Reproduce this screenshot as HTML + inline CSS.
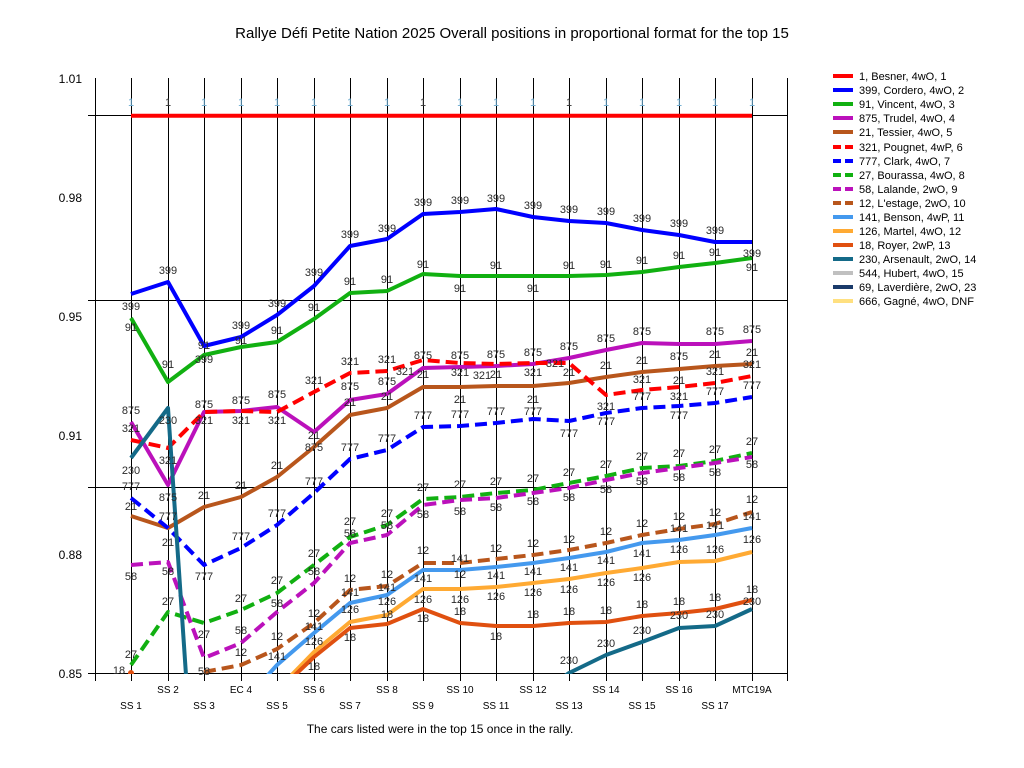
<!DOCTYPE html>
<html><head><meta charset="utf-8"><style>
html,body{margin:0;padding:0;background:#fff;width:1024px;height:768px;overflow:hidden}
svg{display:block;font-family:"Liberation Sans",sans-serif}
.pl{font-size:11px;fill:#2a2a2a;text-anchor:middle}
.ax{font-size:12px;fill:#000}
.lg{font-size:11px;fill:#000}
</style></head><body>
<svg width="1024" height="768" viewBox="0 0 1024 768">
<defs><clipPath id="c"><rect x="95" y="70" width="693" height="604"/></clipPath></defs>
<text x="512" y="38" font-size="15" text-anchor="middle">Rallye Défi Petite Nation 2025  Overall positions in proportional format for the top 15</text>
<g stroke="#000" stroke-width="1" shape-rendering="crispEdges">
<line x1="95.5" y1="78" x2="95.5" y2="681"/>
<line x1="787.5" y1="78" x2="787.5" y2="681"/>
<line x1="131.5" y1="78" x2="131.5" y2="681"/><line x1="168.5" y1="78" x2="168.5" y2="681"/><line x1="204.5" y1="78" x2="204.5" y2="681"/><line x1="241.5" y1="78" x2="241.5" y2="681"/><line x1="277.5" y1="78" x2="277.5" y2="681"/><line x1="314.5" y1="78" x2="314.5" y2="681"/><line x1="350.5" y1="78" x2="350.5" y2="681"/><line x1="387.5" y1="78" x2="387.5" y2="681"/><line x1="423.5" y1="78" x2="423.5" y2="681"/><line x1="460.5" y1="78" x2="460.5" y2="681"/><line x1="496.5" y1="78" x2="496.5" y2="681"/><line x1="533.5" y1="78" x2="533.5" y2="681"/><line x1="569.5" y1="78" x2="569.5" y2="681"/><line x1="606.5" y1="78" x2="606.5" y2="681"/><line x1="642.5" y1="78" x2="642.5" y2="681"/><line x1="679.5" y1="78" x2="679.5" y2="681"/><line x1="715.5" y1="78" x2="715.5" y2="681"/><line x1="752.5" y1="78" x2="752.5" y2="681"/>
<line x1="88" y1="115.5" x2="788" y2="115.5"/>
<line x1="88" y1="300.5" x2="788" y2="300.5"/>
<line x1="88" y1="487.5" x2="788" y2="487.5"/>
<line x1="88" y1="673.5" x2="788" y2="673.5"/>
</g>
<g class="ax" text-anchor="end">
<text x="82" y="83">1.01</text><text x="82" y="202">0.98</text><text x="82" y="321">0.95</text><text x="82" y="440">0.91</text><text x="82" y="559">0.88</text><text x="82" y="678">0.85</text>
</g>
<g class="ax" text-anchor="middle">
<text x="168" y="693" font-size="10">SS 2</text><text x="241" y="693" font-size="10">EC 4</text><text x="314" y="693" font-size="10">SS 6</text><text x="387" y="693" font-size="10">SS 8</text><text x="460" y="693" font-size="10">SS 10</text><text x="533" y="693" font-size="10">SS 12</text><text x="606" y="693" font-size="10">SS 14</text><text x="679" y="693" font-size="10">SS 16</text><text x="752" y="693" font-size="10">MTC19A</text>
<text x="131" y="709" font-size="10">SS 1</text><text x="204" y="709" font-size="10">SS 3</text><text x="277" y="709" font-size="10">SS 5</text><text x="350" y="709" font-size="10">SS 7</text><text x="423" y="709" font-size="10">SS 9</text><text x="496" y="709" font-size="10">SS 11</text><text x="569" y="709" font-size="10">SS 13</text><text x="642" y="709" font-size="10">SS 15</text><text x="715" y="709" font-size="10">SS 17</text>
</g>
<text x="440" y="733" font-size="12" text-anchor="middle">The cars listed were in the top 15 once in the rally.</text>
<g clip-path="url(#c)" fill="none" stroke-width="4" stroke-linejoin="round">
<polyline stroke="#ff0000" points="131,115.7 752,115.7"/>
<polyline stroke="#0000ff" points="131,294 168,282 204,346 241,337 277,315 314,286 350,246 387,239 423,214 460,212 496,209 533,217 569,221 606,223 642,230 679,235 715,242 752,242"/>
<polyline stroke="#11b011" points="131,318 168,382 204,355 241,347 277,342 314,319 350,293 387,291 423,274 460,276 496,276 533,276 569,276 606,275 642,272 679,267 715,263 752,258"/>
<polyline stroke="#bb11bb" points="131,422 168,485 204,412 241,411 277,407 314,432 350,400 387,394 423,368 460,367 496,366 533,364 569,358 606,350 642,343 679,344 715,344 752,341"/>
<polyline stroke="#b8561c" points="131,516 168,528 204,507 241,497 277,477 314,447 350,415 387,408 423,387 460,387 496,386 533,386 569,383 606,377 642,372 679,369 715,366 752,364"/>
<polyline stroke="#ff0000" stroke-dasharray="12 6" points="131,440 168,448 204,412 241,411 277,412 314,392 350,373 387,371 423,360 460,363 496,364 533,363 569,363 606,395 642,390 679,387 715,383 752,376"/>
<polyline stroke="#0000ff" stroke-dasharray="12 6" points="131,498 168,528 204,565 241,548 277,525 314,493 350,459 387,450 423,427 460,426 496,423 533,419 569,421 606,413 642,408 679,406 715,403 752,397"/>
<polyline stroke="#11b011" stroke-dasharray="12 6" points="131,665 168,612 204,623 241,610 277,593 314,565 350,537 387,525 423,499 460,497 496,493 533,490 569,483 606,476 642,468 679,466 715,461 752,453"/>
<polyline stroke="#bb11bb" stroke-dasharray="12 6" points="131,565 168,562 204,658 241,643 277,612 314,583 350,543 387,535 423,505 460,500 496,498 533,493 569,488 606,480 642,473 679,468 715,463 752,457"/>
<polyline stroke="#b8561c" stroke-dasharray="12 6" points="204,672 241,665 277,649 314,623 350,590 387,586 423,563 460,563 496,559 533,555 569,550 606,543 642,535 679,529 715,524 752,512"/>
<polyline stroke="#4499ee" points="259,685 277,665 314,633 350,603 387,595 423,570 460,570 496,567 533,563 569,558 606,552 642,543 679,540 715,535 752,528"/>
<polyline stroke="#ffaa33" points="277,690 314,652 350,622 387,615 423,589 460,589 496,587 533,583 569,579 606,573 642,568 679,562 715,561 752,552"/>
<polyline stroke="#e05010" points="277,692 314,657 350,628 387,624 423,609 460,623 496,626 533,626 569,623 606,622 642,616 679,613 715,609 752,600"/>
<polyline stroke="#146a88" points="131,458 168,408 187,690"/>
<polyline stroke="#146a88" points="552,685 569,673 606,655 642,642 679,628 715,626 752,609"/>
<circle cx="131" cy="673" r="3" fill="#e05010" stroke="none"/>
</g>
<g class="pl">
<text x="131" y="106" style="fill:#6aaad0">1</text><text x="168" y="106" style="fill:#333">1</text><text x="204" y="106" style="fill:#6aaad0">1</text><text x="241" y="106" style="fill:#6aaad0">1</text><text x="277" y="106" style="fill:#6aaad0">1</text><text x="314" y="106" style="fill:#6aaad0">1</text><text x="350" y="106" style="fill:#6aaad0">1</text><text x="387" y="106" style="fill:#6aaad0">1</text><text x="423" y="106" style="fill:#333">1</text><text x="460" y="106" style="fill:#6aaad0">1</text><text x="496" y="106" style="fill:#6aaad0">1</text><text x="533" y="106" style="fill:#6aaad0">1</text><text x="569" y="106" style="fill:#333">1</text><text x="606" y="106" style="fill:#6aaad0">1</text><text x="642" y="106" style="fill:#6aaad0">1</text><text x="679" y="106" style="fill:#6aaad0">1</text><text x="715" y="106" style="fill:#6aaad0">1</text><text x="752" y="106" style="fill:#6aaad0">1</text>
</g>
<g class="pl">
<text x="131" y="310">399</text><text x="168" y="274">399</text><text x="204" y="349">91</text><text x="241" y="329">399</text><text x="277" y="307">399</text><text x="314" y="276">399</text><text x="350" y="238">399</text><text x="387" y="232">399</text><text x="423" y="206">399</text><text x="460" y="204">399</text><text x="496" y="202">399</text><text x="533" y="209">399</text><text x="569" y="213">399</text><text x="606" y="215">399</text><text x="642" y="222">399</text><text x="679" y="227">399</text><text x="715" y="234">399</text><text x="752" y="257">399</text>
<text x="131" y="331">91</text><text x="168" y="368">91</text><text x="204" y="363">399</text><text x="241" y="344">91</text><text x="277" y="334">91</text><text x="314" y="311">91</text><text x="350" y="285">91</text><text x="387" y="283">91</text><text x="423" y="268">91</text><text x="460" y="292">91</text><text x="496" y="269">91</text><text x="533" y="292">91</text><text x="569" y="269">91</text><text x="606" y="268">91</text><text x="642" y="264">91</text><text x="679" y="259">91</text><text x="715" y="256">91</text><text x="752" y="271">91</text>
<text x="131" y="414">875</text><text x="168" y="501">875</text><text x="204" y="408">875</text><text x="241" y="404">875</text><text x="277" y="398">875</text><text x="314" y="451">875</text><text x="350" y="390">875</text><text x="387" y="385">875</text><text x="423" y="359">875</text><text x="460" y="359">875</text><text x="496" y="358">875</text><text x="533" y="356">875</text><text x="569" y="350">875</text><text x="606" y="342">875</text><text x="642" y="335">875</text><text x="679" y="360">875</text><text x="715" y="335">875</text><text x="752" y="333">875</text>
<text x="131" y="510">21</text><text x="168" y="546">21</text><text x="204" y="499">21</text><text x="241" y="489">21</text><text x="277" y="469">21</text><text x="314" y="439">21</text><text x="350" y="406">21</text><text x="387" y="400">21</text><text x="423" y="378">21</text><text x="460" y="403">21</text><text x="496" y="378">21</text><text x="533" y="403">21</text><text x="569" y="376">21</text><text x="606" y="369">21</text><text x="642" y="364">21</text><text x="679" y="384">21</text><text x="715" y="358">21</text><text x="752" y="356">21</text>
<text x="131" y="432">321</text><text x="168" y="464">321</text><text x="204" y="424">321</text><text x="241" y="424">321</text><text x="277" y="424">321</text><text x="314" y="384">321</text><text x="350" y="365">321</text><text x="387" y="363">321</text><text x="405" y="375">321</text><text x="460" y="376">321</text><text x="482" y="379">321</text><text x="533" y="376">321</text><text x="555" y="367">321</text><text x="606" y="410">321</text><text x="642" y="383">321</text><text x="679" y="400">321</text><text x="715" y="375">321</text><text x="752" y="368">321</text>
<text x="131" y="490">777</text><text x="168" y="520">777</text><text x="204" y="580">777</text><text x="241" y="540">777</text><text x="277" y="517">777</text><text x="314" y="485">777</text><text x="350" y="451">777</text><text x="387" y="442">777</text><text x="423" y="419">777</text><text x="460" y="418">777</text><text x="496" y="415">777</text><text x="533" y="415">777</text><text x="569" y="437">777</text><text x="606" y="425">777</text><text x="642" y="400">777</text><text x="679" y="419">777</text><text x="715" y="395">777</text><text x="752" y="389">777</text>
<text x="131" y="658">27</text><text x="168" y="605">27</text><text x="204" y="638">27</text><text x="241" y="602">27</text><text x="277" y="584">27</text><text x="314" y="557">27</text><text x="350" y="525">27</text><text x="387" y="517">27</text><text x="423" y="491">27</text><text x="460" y="488">27</text><text x="496" y="485">27</text><text x="533" y="482">27</text><text x="569" y="476">27</text><text x="606" y="468">27</text><text x="642" y="460">27</text><text x="679" y="457">27</text><text x="715" y="453">27</text><text x="752" y="445">27</text>
<text x="131" y="580">58</text><text x="168" y="575">58</text><text x="204" y="675">58</text><text x="241" y="634">58</text><text x="277" y="607">58</text><text x="314" y="575">58</text><text x="350" y="537">58</text><text x="387" y="529">58</text><text x="423" y="518">58</text><text x="460" y="515">58</text><text x="496" y="511">58</text><text x="533" y="505">58</text><text x="569" y="501">58</text><text x="606" y="493">58</text><text x="642" y="485">58</text><text x="679" y="481">58</text><text x="715" y="476">58</text><text x="752" y="468">58</text>
<text x="241" y="656">12</text><text x="277" y="640">12</text><text x="314" y="617">12</text><text x="350" y="582">12</text><text x="387" y="578">12</text><text x="423" y="554">12</text><text x="460" y="578">12</text><text x="496" y="552">12</text><text x="533" y="547">12</text><text x="569" y="543">12</text><text x="606" y="535">12</text><text x="642" y="527">12</text><text x="679" y="520">12</text><text x="715" y="516">12</text><text x="752" y="503">12</text>
<text x="277" y="660">141</text><text x="314" y="630">141</text><text x="350" y="596">141</text><text x="387" y="591">141</text><text x="423" y="582">141</text><text x="460" y="562">141</text><text x="496" y="579">141</text><text x="533" y="575">141</text><text x="569" y="571">141</text><text x="606" y="564">141</text><text x="642" y="557">141</text><text x="679" y="532">141</text><text x="715" y="529">141</text><text x="752" y="520">141</text>
<text x="314" y="645">126</text><text x="350" y="613">126</text><text x="387" y="605">126</text><text x="423" y="603">126</text><text x="460" y="603">126</text><text x="496" y="600">126</text><text x="533" y="596">126</text><text x="569" y="593">126</text><text x="606" y="586">126</text><text x="642" y="581">126</text><text x="679" y="553">126</text><text x="715" y="553">126</text><text x="752" y="543">126</text>
<text x="119" y="674">18</text><text x="314" y="670">18</text><text x="350" y="641">18</text><text x="387" y="618">18</text><text x="423" y="622">18</text><text x="460" y="615">18</text><text x="496" y="640">18</text><text x="533" y="618">18</text><text x="569" y="615">18</text><text x="606" y="614">18</text><text x="642" y="608">18</text><text x="679" y="605">18</text><text x="715" y="601">18</text><text x="752" y="593">18</text>
<text x="131" y="474">230</text><text x="168" y="424">230</text><text x="569" y="664">230</text><text x="606" y="647">230</text><text x="642" y="634">230</text><text x="679" y="619">230</text><text x="715" y="618">230</text><text x="752" y="605">230</text>
</g>
<g stroke-width="4">
<line x1="833" y1="76" x2="853" y2="76" stroke="#ff0000"/>
<line x1="833" y1="90" x2="853" y2="90" stroke="#0000ff"/>
<line x1="833" y1="104" x2="853" y2="104" stroke="#11b011"/>
<line x1="833" y1="118" x2="853" y2="118" stroke="#bb11bb"/>
<line x1="833" y1="132" x2="853" y2="132" stroke="#b8561c"/>
<line x1="833" y1="147" x2="853" y2="147" stroke="#ff0000" stroke-dasharray="8 4"/>
<line x1="833" y1="161" x2="853" y2="161" stroke="#0000ff" stroke-dasharray="8 4"/>
<line x1="833" y1="175" x2="853" y2="175" stroke="#11b011" stroke-dasharray="8 4"/>
<line x1="833" y1="189" x2="853" y2="189" stroke="#bb11bb" stroke-dasharray="8 4"/>
<line x1="833" y1="203" x2="853" y2="203" stroke="#b8561c" stroke-dasharray="8 4"/>
<line x1="833" y1="217" x2="853" y2="217" stroke="#4499ee"/>
<line x1="833" y1="231" x2="853" y2="231" stroke="#ffaa33"/>
<line x1="833" y1="245" x2="853" y2="245" stroke="#e05010"/>
<line x1="833" y1="259" x2="853" y2="259" stroke="#146a88"/>
<line x1="833" y1="273" x2="853" y2="273" stroke="#c0c0c0"/>
<line x1="833" y1="287" x2="853" y2="287" stroke="#1a3a6a"/>
<line x1="833" y1="301" x2="853" y2="301" stroke="#ffe080"/>
</g>
<g class="lg">
<text x="859" y="80">1, Besner, 4wO, 1</text>
<text x="859" y="94">399, Cordero, 4wO, 2</text>
<text x="859" y="108">91, Vincent, 4wO, 3</text>
<text x="859" y="122">875, Trudel, 4wO, 4</text>
<text x="859" y="136">21, Tessier, 4wO, 5</text>
<text x="859" y="151">321, Pougnet, 4wP, 6</text>
<text x="859" y="165">777, Clark, 4wO, 7</text>
<text x="859" y="179">27, Bourassa, 4wO, 8</text>
<text x="859" y="193">58, Lalande, 2wO, 9</text>
<text x="859" y="207">12, L'estage, 2wO, 10</text>
<text x="859" y="221">141, Benson, 4wP, 11</text>
<text x="859" y="235">126, Martel, 4wO, 12</text>
<text x="859" y="249">18, Royer, 2wP, 13</text>
<text x="859" y="263">230, Arsenault, 2wO, 14</text>
<text x="859" y="277">544, Hubert, 4wO, 15</text>
<text x="859" y="291">69, Laverdière, 2wO, 23</text>
<text x="859" y="305">666, Gagné, 4wO,  DNF</text>
</g>
</svg>
</body></html>
